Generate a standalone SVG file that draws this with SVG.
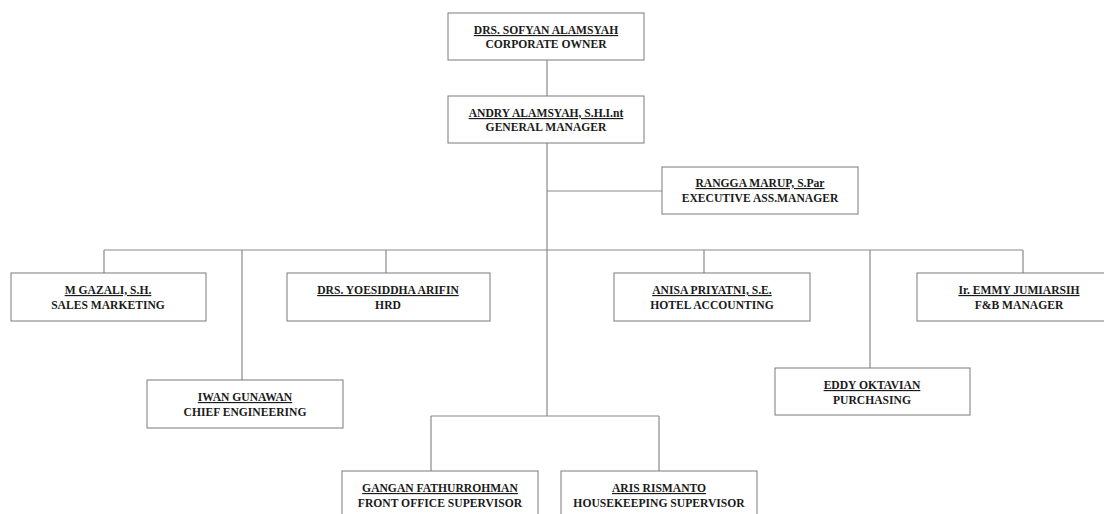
<svg xmlns="http://www.w3.org/2000/svg" width="1104" height="514" viewBox="0 0 1104 514">
<style>
.box{fill:#fff;stroke:#7a7a7a;stroke-width:1}
.con{fill:none;stroke:#8a8a8a;stroke-width:1.2}
text{font-family:"Liberation Serif","Times New Roman",serif;font-weight:bold;font-size:11.6px;fill:#1a1a1a;text-anchor:middle}
.n{text-decoration:underline}
</style>
<rect width="1104" height="514" fill="#fff"/>
<g id="connectors">
<path class="con" d="M547,60V96M547,143V416M547,191H662M104,250H1023M104,250V273M242,250V380M386,250V273M704,250V273M870,250V368M1023,250V273M431,416H659M431,416V471M659,416V471"/>
</g>
<g id="owner"><rect class="box" x="448" y="13" width="196" height="47"/><text class="n" x="546" y="34">DRS. SOFYAN ALAMSYAH</text><text x="546" y="48">CORPORATE OWNER</text></g>
<g id="gm"><rect class="box" x="448" y="96" width="196" height="47"/><text class="n" x="546" y="117">ANDRY ALAMSYAH, S.H.I.nt</text><text x="546" y="131">GENERAL MANAGER</text></g>
<g id="exec"><rect class="box" x="662" y="167" width="196" height="47"/><text class="n" x="760" y="187">RANGGA MARUP, S.Par</text><text x="760" y="202">EXECUTIVE ASS.MANAGER</text></g>
<g id="sales"><rect class="box" x="11" y="273" width="195" height="48"/><text class="n" x="108" y="294">M GAZALI, S.H.</text><text x="108" y="309">SALES MARKETING</text></g>
<g id="hrd"><rect class="box" x="287" y="273" width="203" height="48"/><text class="n" x="388" y="294">DRS. YOESIDDHA ARIFIN</text><text x="388" y="309">HRD</text></g>
<g id="accounting"><rect class="box" x="614" y="273" width="196" height="48"/><text class="n" x="712" y="294">ANISA PRIYATNI, S.E.</text><text x="712" y="309">HOTEL ACCOUNTING</text></g>
<g id="fnb"><rect class="box" x="917" y="273" width="204" height="48"/><text class="n" x="1019" y="294">Ir. EMMY JUMIARSIH</text><text x="1019" y="309">F&amp;B MANAGER</text></g>
<g id="engineering"><rect class="box" x="147" y="380" width="196" height="48"/><text class="n" x="245" y="401">IWAN GUNAWAN</text><text x="245" y="416">CHIEF ENGINEERING</text></g>
<g id="purchasing"><rect class="box" x="775" y="368" width="195" height="47"/><text class="n" x="872" y="389">EDDY OKTAVIAN</text><text x="872" y="404">PURCHASING</text></g>
<g id="frontoffice"><rect class="box" x="342" y="471" width="196" height="60"/><text class="n" x="440" y="492">GANGAN FATHURROHMAN</text><text x="440" y="507">FRONT OFFICE SUPERVISOR</text></g>
<g id="housekeeping"><rect class="box" x="561" y="471" width="196" height="60"/><text class="n" x="659" y="492">ARIS RISMANTO</text><text x="659" y="507">HOUSEKEEPING SUPERVISOR</text></g>
</svg>
